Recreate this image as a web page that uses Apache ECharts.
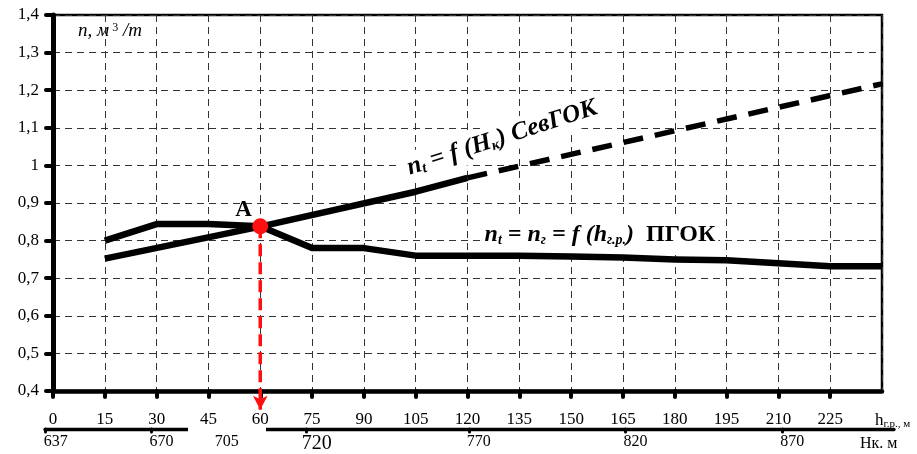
<!DOCTYPE html>
<html><head><meta charset="utf-8">
<script src="https://cdn.jsdelivr.net/npm/echarts@6/dist/echarts.min.js"></script>
<style>html,body{margin:0;padding:0;background:#fff}#c{width:917px;height:454px}</style>
</head><body><div id="c"></div>
<script>
// ---- data ----
const hValues = [15,30,45,60,75,90,105,120,135,150,165,180,195,210,225,240];
const nPgok   = [0.80,0.844,0.844,0.838,0.78,0.78,0.76,0.76,0.76,0.758,0.755,0.75,0.748,0.74,0.732,0.732];
const sevH    = [15,60,105,120];
const nSev    = [0.752,0.837,0.93,0.967];
const sevForecastH = [120,180,240];
const nSevForecast = [0.967,1.092,1.217];
const pointA = [60,0.838];
const arrowEndN = 0.35;
const xRange = [0,240,15];
const yRange = [0.4,1.4,0.1];
const hkLabels = ['637','670','705','720','770','820','870'];
const hkAtH    = [-2.0,28.6,47.5,73.5,120.4,165.7,211.1];

const SERIF = '"Liberation Serif","DejaVu Serif",serif';
const chart = echarts.init(document.getElementById('c'), null, {renderer:'canvas'});

function pairs(xs, ys){ return xs.map((x,i)=>[x, ys[i]]); }
function yFmt(v){ return String(Math.round(v*10)/10).replace('.', ','); }
function hkFmt(v){
  for (let i=0;i<hkAtH.length;i++) if (Math.abs(v-hkAtH[i])<1e-6) return hkLabels[i]==='720' ? '{big|720}' : hkLabels[i];
  return '';
}

const option = {
  animation:false,
  backgroundColor:'#fff',
  grid:[
    {left:53, right:35, top:15, bottom:63, show:true, borderColor:'#000', borderWidth:2.5, containLabel:false},
    {left:45, right:23, top:428, height:2, show:false}
  ],
  xAxis:[
    {type:'value', gridIndex:0, min:xRange[0], max:xRange[1], interval:xRange[2],
     axisLine:{show:true, onZero:false, lineStyle:{color:'#000', width:4.5}},
     axisTick:{show:true, length:6, lineStyle:{color:'#000', width:4, cap:'round'}},
     axisLabel:{color:'#000', fontFamily:SERIF, fontSize:17, margin:20, showMaxLabel:false, showMinLabel:true},
     splitLine:{show:true, lineStyle:{color:'#333', width:1, type:[7,5]}}},
    {type:'value', gridIndex:1, min:-2.2, max:243.4, position:'bottom',
     axisLine:{show:true, onZero:false, lineStyle:{color:'#000', width:3.3}},
     axisTick:{show:true, customValues:hkAtH, length:3, lineStyle:{color:'#000', width:3, cap:'round'}},
     axisLabel:{customValues:hkAtH, formatter:hkFmt, color:'#000', fontFamily:SERIF, fontSize:16, margin:5, padding:[0,0,0,20],
       rich:{big:{fontSize:20, fontFamily:SERIF, color:'#000'}}},
     splitLine:{show:false}}
  ],
  yAxis:[
    {type:'value', gridIndex:0, min:yRange[0], max:yRange[1], interval:yRange[2],
     axisLine:{show:true, onZero:false, lineStyle:{color:'#000', width:5}},
     axisTick:{show:true, length:7, lineStyle:{color:'#000', width:4, cap:'round'}},
     axisLabel:{color:'#000', fontFamily:SERIF, fontSize:17, margin:14, formatter:yFmt},
     splitLine:{show:true, lineStyle:{color:'#333', width:1, type:[7,5]}}},
    {type:'value', gridIndex:1, min:0, max:1, show:false}
  ],
  series:[
    {type:'line', name:'ПГОК', data:pairs(hValues, nPgok), symbol:'none', z:3,
     lineStyle:{color:'#000', width:6.5, join:'round'}},
    {type:'line', name:'СевГОК', data:pairs(sevH, nSev), symbol:'none', z:3,
     lineStyle:{color:'#000', width:6.5, join:'round'}},
    {type:'line', name:'СевГОК прогноз', data:pairs(sevForecastH, nSevForecast), symbol:'none', z:3,
     lineStyle:{color:'#000', width:5.5, type:[20,12]}},
    {type:'line', name:'A', clip:false, z:6, showSymbol:true,
     data:[
       {value:pointA, symbol:'circle', symbolSize:16},
       {value:[pointA[0], arrowEndN], symbol:'arrow', symbolSize:[11,14], symbolRotate:180}
     ],
     itemStyle:{color:'#ff1010'},
     lineStyle:{color:'#ff1010', width:3.5, type:[12,6]}}
  ],
  graphic:[
    {type:'rect', z:100, shape:{x:188, y:427, width:78, height:7}, style:{fill:'#fff'}},
    {type:'text', z:100, x:78, y:31,
     style:{text:'{i|n, м}{sup| 3}{i| /т}', verticalAlign:'middle', align:'left',
       rich:{i:{fontFamily:SERIF, fontStyle:'italic', fontSize:19, fill:'#000'},
             sup:{fontFamily:SERIF, fontSize:12, fill:'#000', verticalAlign:'top'}}}},
    {type:'text', z:100, x:243.5, y:210,
     style:{text:'A', fontFamily:SERIF, fontWeight:'bold', fontSize:23, fill:'#000', align:'center', verticalAlign:'middle'}},
    {type:'text', z:50, x:502, y:138, rotation:18*Math.PI/180,
     style:{text:'{i|n}{s|t}{i| = f (H}{s|к}{i|) СевГОК}', align:'center', verticalAlign:'middle',
       backgroundColor:'#fff', padding:[3,6,3,6],
       rich:{i:{fontFamily:SERIF, fontStyle:'italic', fontWeight:'bold', fontSize:25, fill:'#000'},
             s:{fontFamily:SERIF, fontStyle:'italic', fontWeight:'bold', fontSize:15, fill:'#000', verticalAlign:'bottom'}}}},
    {type:'text', z:50, x:600, y:235,
     style:{text:'{i|n}{s|t}{i| = n}{s|г}{i| = f (h}{s|г.р.}{i|)}{b|  ПГОК}', align:'center', verticalAlign:'middle',
       backgroundColor:'#fff', padding:[4,3,4,3],
       rich:{i:{fontFamily:SERIF, fontStyle:'italic', fontWeight:'bold', fontSize:24, fill:'#000'},
             s:{fontFamily:SERIF, fontStyle:'italic', fontWeight:'bold', fontSize:14, fill:'#000', verticalAlign:'bottom'},
             b:{fontFamily:SERIF, fontWeight:'bold', fontSize:24, fill:'#000'}}}},
    {type:'text', z:100, x:875, y:421,
     style:{text:'{n|h}{s|г.р., м}', align:'left', verticalAlign:'middle',
       rich:{n:{fontFamily:SERIF, fontSize:17, fill:'#000'},
             s:{fontFamily:SERIF, fontSize:11, fill:'#000', verticalAlign:'bottom'}}}},
    {type:'text', z:100, x:860, y:444,
     style:{text:'Нк. м', fontFamily:SERIF, fontSize:16, fill:'#000', align:'left', verticalAlign:'middle'}}
  ]
};
chart.setOption(option);
</script></body></html>
